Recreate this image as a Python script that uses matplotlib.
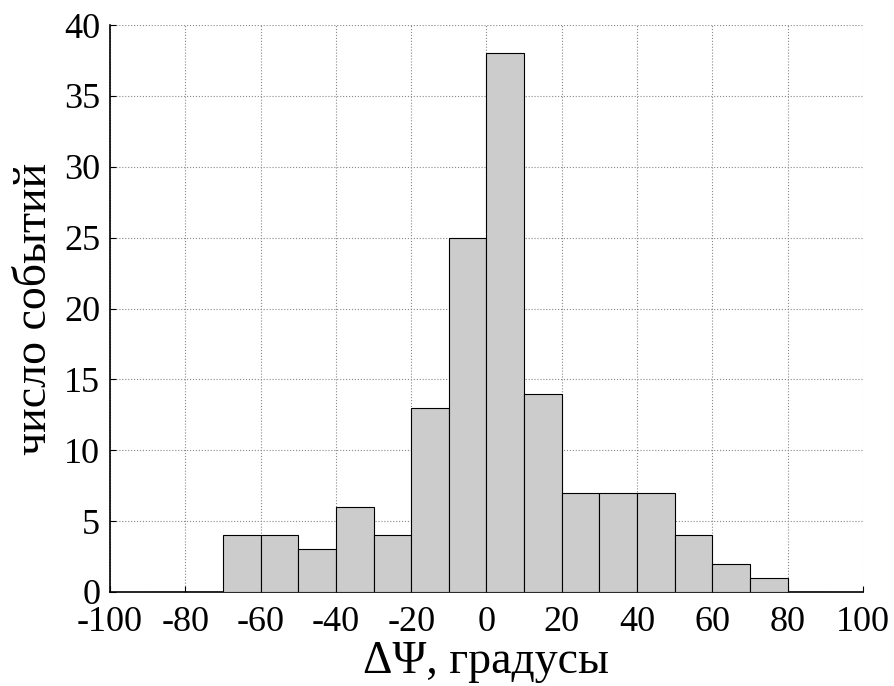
import matplotlib
matplotlib.use("Agg")
import matplotlib.pyplot as plt

# границы бинов и число событий
bin_left = [-90, -80, -70, -60, -50, -40, -30, -20, -10, 0, 10, 20, 30, 40, 50, 60, 70, 80]
counts = [0, 0, 4, 4, 3, 6, 4, 13, 25, 38, 14, 7, 7, 7, 4, 2, 1, 0]
bin_width = 10
xticks = [-100, -80, -60, -40, -20, 0, 20, 40, 60, 80, 100]
yticks = [0, 5, 10, 15, 20, 25, 30, 35, 40]

plt.rcParams['font.family'] = ['Liberation Serif', 'DejaVu Serif']
plt.rcParams['axes.unicode_minus'] = False

fig = plt.figure(figsize=(8.94, 6.86), dpi=100)
ax = fig.add_axes([110 / 894, 1 - 592 / 686, 753 / 894, 567 / 686])

ax.bar(bin_left, counts, width=bin_width, align='edge',
       color='#cccccc', edgecolor='black', linewidth=0.8, zorder=3)

ax.set_xlim(-100, 100)
ax.set_ylim(0, 40)
ax.set_xticks(xticks)
ax.set_yticks(yticks)
ax.grid(True, color='#888888', linestyle=':', linewidth=0.8, zorder=0)
ax.set_axisbelow(True)

for side in ['top', 'right']:
    ax.spines[side].set_visible(False)
ax.spines['left'].set_linewidth(1.2)
ax.spines['bottom'].set_linewidth(1.2)
ax.tick_params(direction='in', length=4, labelsize=26)
ax.tick_params(axis='x', pad=10)
ax.tick_params(axis='y', pad=7)

ax.set_xlabel('ΔΨ, градусы', fontsize=33, labelpad=1)
ax.set_ylabel('число событий', fontsize=33, labelpad=6)

fig.savefig('out.png', dpi=100)
plt.close(fig)
